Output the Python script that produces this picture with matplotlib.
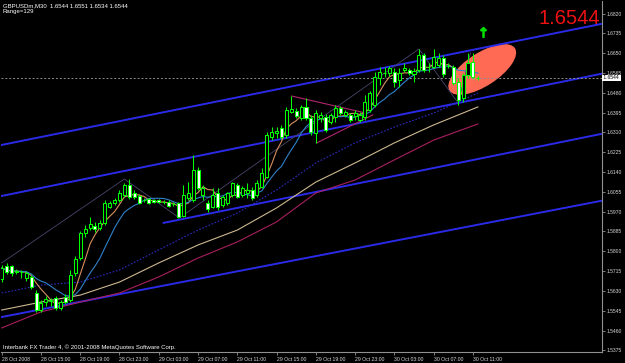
import matplotlib
matplotlib.use("Agg")
import matplotlib.pyplot as plt
import numpy as np
import pandas as pd
from matplotlib.patches import Ellipse
from matplotlib.transforms import ScaledTranslation

# ---------------- data (prices in 1e-4 units) ----------------
opens_p = [15681, 15737, 15737, 15715, 15711, 15685, 15690, 15621, 15548, 15582,
           15587, 15600, 15557, 15604, 15591, 15707, 15771, 15878, 15900, 15908,
           15900, 15921, 15990, 16007, 16020, 16041, 16084, 16050, 16037, 16020,
           16024, 16020, 16018, 16012, 16012, 16003, 16007, 15951, 16029, 16020,
           16149, 16041, 16007, 15990, 16050, 15999, 16007, 16041, 16084, 16041,
           16050, 16063, 16041, 16076, 16119, 16290, 16307, 16329, 16299, 16398,
           16402, 16372, 16419, 16372, 16307, 16372, 16376, 16355, 16376, 16415,
           16385, 16385, 16380, 16363, 16376, 16406, 16428, 16543, 16565, 16565,
           16569, 16535, 16578, 16578, 16561, 16578, 16642, 16591, 16591, 16599,
           16629, 16595, 16591, 16526, 16458, 16556, 16612, 16544]
highs_p = [15741, 15750, 15741, 15724, 15720, 15715, 15698, 15634, 15591, 15608,
           15600, 15608, 15591, 15617, 15720, 15780, 15887, 15913, 15947, 15926,
           15934, 16020, 16016, 16029, 16063, 16093, 16110, 16063, 16046, 16029,
           16029, 16024, 16024, 16020, 16020, 16012, 16012, 16084, 16097, 16213,
           16162, 16084, 16020, 16072, 16072, 16041, 16054, 16097, 16093, 16080,
           16093, 16076, 16106, 16157, 16312, 16333, 16333, 16342, 16419, 16466,
           16415, 16428, 16458, 16385, 16406, 16398, 16389, 16393, 16428, 16423,
           16406, 16393, 16406, 16398, 16470, 16488, 16569, 16591, 16591, 16595,
           16586, 16586, 16608, 16586, 16586, 16668, 16651, 16608, 16668, 16651,
           16642, 16608, 16599, 16543, 16565, 16651, 16651, 16551]
lows_p = [15668, 15703, 15694, 15703, 15685, 15673, 15638, 15540, 15540, 15565,
          15565, 15548, 15548, 15574, 15582, 15694, 15763, 15861, 15891, 15883,
          15891, 15913, 15986, 15999, 16012, 16033, 16024, 16024, 16003, 16012,
          16003, 16007, 16007, 16003, 15990, 15994, 15943, 15947, 16020, 16012,
          16063, 16020, 15969, 15986, 15977, 15990, 15999, 16033, 16029, 16033,
          16029, 16020, 16033, 16072, 16114, 16277, 16286, 16282, 16286, 16393,
          16372, 16363, 16363, 16299, 16265, 16355, 16312, 16346, 16355, 16385,
          16376, 16355, 16363, 16355, 16363, 16398, 16419, 16513, 16548, 16552,
          16505, 16505, 16569, 16556, 16526, 16569, 16569, 16569, 16586, 16591,
          16548, 16586, 16513, 16428, 16440, 16543, 16543, 16534]
closes_p = [15728, 15711, 15707, 15713, 15709, 15707, 15647, 15548, 15578, 15595,
            15589, 15557, 15582, 15582, 15698, 15767, 15878, 15896, 15917, 15896,
            15921, 16007, 16007, 16020, 16050, 16084, 16033, 16033, 16007, 16018,
            16007, 16012, 16010, 16011, 15994, 16002, 15947, 16041, 16050, 16149,
            16072, 16072, 15981, 16041, 15990, 16033, 16050, 16093, 16033, 16072,
            16063, 16029, 16093, 16136, 16299, 16312, 16316, 16290, 16406, 16410,
            16380, 16419, 16372, 16312, 16393, 16385, 16320, 16385, 16415, 16393,
            16398, 16363, 16393, 16385, 16440, 16479, 16548, 16569, 16563, 16586,
            16526, 16565, 16586, 16565, 16573, 16642, 16578, 16589, 16633, 16629,
            16561, 16593, 16522, 16449, 16556, 16608, 16548, 16544]

time_tick_bars = [0, 8, 16, 24, 32, 40, 48, 56, 64, 72, 80, 88, 96]
time_tick_labels = ["28 Oct 2008", "28 Oct 15:00", "28 Oct 19:00", "28 Oct 23:00",
                    "29 Oct 03:00", "29 Oct 07:00", "29 Oct 11:00", "29 Oct 15:00",
                    "29 Oct 19:00", "29 Oct 23:00", "30 Oct 03:00", "30 Oct 07:00",
                    "30 Oct 11:00"]
price_ticks = [1.6820, 1.6735, 1.6650, 1.6565, 1.6480, 1.6395, 1.6310, 1.6225,
               1.6140, 1.6055, 1.5970, 1.5885, 1.5800, 1.5715, 1.5630, 1.5545,
               1.5460, 1.5375]

# slow moving averages read at time-tick bars
slow_ma_bars = [0, 8, 16, 24, 32, 40, 48, 56, 64, 72, 80, 88, 93, 97]
ma_dotblue = [1.5621, 1.5655, 1.5668, 1.5720, 1.5806, 1.5891, 1.5964, 1.6063,
              1.6179, 1.6265, 1.6333, 1.6393, 1.6440, 1.6479]
ma_tan_bars = [0, 8, 16, 24, 32, 40, 48, 56, 64, 72, 80, 88, 97]
ma_tan = [1.5548, 1.5582, 1.5612, 1.5668, 1.5750, 1.5827, 1.5891, 1.5986,
          1.6097, 1.6179, 1.6265, 1.6342, 1.6419]
ma_mag = [1.5471, 1.5540, 1.5582, 1.5621, 1.5690, 1.5771, 1.5840, 1.5926,
          1.6050, 1.6106, 1.6192, 1.6277, 1.6346]

# trend lines: (bar0, price0, bar1, price1)
trend_lines = [(-1, 1.6252, 123, 1.6779),
               (-1, 1.6033, 123, 1.6565),
               (32.8, 1.5921, 123, 1.6307),
               (-1, 1.5514, 123, 1.6020)]
zigzag_bars = [0, 25, 36.2, 85, 93, 95.5]
zigzag_prices = [1.5750, 1.6110, 1.5943, 1.6668, 1.6436, 1.6651]
tri_upper = [(59.1, 1.6466), (74.2, 1.6393)]
tri_lower = [(64.2, 1.6265), (75.6, 1.6385)]
ellipse_center = (97.9, 1.6580)
arrow_pos = (98.0, 1.6741)
last_price = 1.6544
header = "GBPUSDm,M30  1.6544 1.6551 1.6534 1.6544"
range_text = "Range=129"
copyright_text = "Interbank FX Trader 4, \u00a9 2001-2008 MetaQuotes Software Corp."

opens = np.array(opens_p) / 1e4
highs = np.array(highs_p) / 1e4
lows = np.array(lows_p) / 1e4
closes = np.array(closes_p) / 1e4
n = min(len(opens), len(highs), len(lows), len(closes))
opens, highs, lows, closes = opens[:n], highs[:n], lows[:n], closes[:n]
x = np.arange(n)

# ---------------- figure ----------------
W, H = 625, 363
fig = plt.figure(figsize=(W / 100, H / 100), dpi=100, facecolor='black')
L, R, T, B = 1, 602, 1, 352
ax = fig.add_axes([L / W, 1 - B / H, (R - L) / W, (B - T) / H])
ax.set_facecolor('black')
ax.set_xlim(-0.14, 122.3)
ax.set_ylim(1.53679, 1.68737)
FONT = 'Liberation Sans'

# ellipse (behind)
ell = Ellipse((0, 0), width=2 * 39 / 100, height=2 * 16.5 / 100, angle=33,
              transform=fig.dpi_scale_trans + ScaledTranslation(ellipse_center[0], ellipse_center[1], ax.transData),
              facecolor='#ff6a55', edgecolor='none', zorder=1)
ax.add_patch(ell)

# trend lines
for b0, p0, b1, p1 in trend_lines:
    ax.plot([b0, b1], [p0, p1], color='#2a2ae8', lw=1.4, zorder=2, solid_capstyle='butt')

# zigzag
ax.plot(zigzag_bars, zigzag_prices, color='#46466a', lw=0.6, zorder=2)
# triangle
ax.plot([p[0] for p in tri_upper], [p[1] for p in tri_upper], color='#b0256e', lw=0.8, zorder=2)
ax.plot([p[0] for p in tri_lower], [p[1] for p in tri_lower], color='#b0256e', lw=0.8, zorder=2)

# slow MAs
ax.plot(slow_ma_bars, ma_dotblue, color='#2c2cc0', lw=0.8, ls=(0, (1.5, 1.5)), zorder=3)
ax.plot(ma_tan_bars, ma_tan, color='#cdb890', lw=0.8, zorder=3)
ax.plot(ma_tan_bars, ma_mag, color='#a8205e', lw=0.8, zorder=3)

# fast MAs from closes
cs = pd.Series(closes)
ma_fast = cs.rolling(5, min_periods=1).mean()
ma_mid = cs.rolling(10, min_periods=1).mean()
ax.plot(x, ma_fast, color='#d8905e', lw=0.8, zorder=4)
ax.plot(x, ma_mid, color='#2f80c8', lw=0.8, zorder=4)

# current price line
ax.axhline(last_price, color='#8a8a8a', lw=0.7, ls=(0, (2, 2)), zorder=3)

# candles
ax.vlines(x, lows, highs, color='#00ff00', lw=0.75, zorder=5)
up = closes >= opens
heights = np.maximum(np.abs(closes - opens), 0.00003)
ax.bar(x, heights, bottom=np.minimum(opens, closes), width=0.62,
       color=np.where(up, 'black', 'white'), edgecolor='#00ff00', linewidth=0.75, zorder=6)

# arrow
ax.plot(arrow_pos[0], arrow_pos[1], marker=r'$\uparrow$', color='#00e000', markersize=7, zorder=7)

# ---------------- axes styling ----------------
for s in ['left', 'top']:
    ax.spines[s].set_visible(False)
for s in ['right', 'bottom']:
    ax.spines[s].set_color('#909090')
    ax.spines[s].set_linewidth(0.8)
ax.yaxis.tick_right()
ax.set_yticks(price_ticks)
ax.set_yticklabels([f"{p:.4f}" for p in price_ticks], fontsize=3.6, color='#d8d8d8', family=FONT)
ax.set_xticks(time_tick_bars)
ax.set_xticklabels(time_tick_labels, fontsize=3.7, color='#d8d8d8', family=FONT, ha='left')
ax.tick_params(axis='y', length=2, width=0.6, color='#909090', pad=1.2)
ax.tick_params(axis='x', length=2.5, width=0.6, color='#909090', pad=1.0)

# current price box on axis
ax.text(1.0, last_price, f" {last_price:.4f} ", transform=ax.get_yaxis_transform(), ha='left', va='center',
        fontsize=3.6, color='black', family=FONT, zorder=10, clip_on=False,
        bbox=dict(boxstyle='square,pad=0.1', facecolor='white', edgecolor='none'))

# texts
def px(xp, yp):
    return xp / W, 1 - yp / H

fig.text(*px(3, 5.8), header, fontsize=4.3, color='white', family=FONT, va='center', ha='left')
fig.text(*px(3, 11.7), range_text, fontsize=4.3, color='white', family=FONT, va='center', ha='left')
fig.text(*px(3, 347), copyright_text, fontsize=4.3, color='white', family=FONT, va='center', ha='left')
fig.text(*px(600, 18), f"{last_price:.4f}", fontsize=14.5, color='#ee1111', family=FONT, va='center', ha='right')

fig.savefig('out.png', dpi=100, facecolor='black')
